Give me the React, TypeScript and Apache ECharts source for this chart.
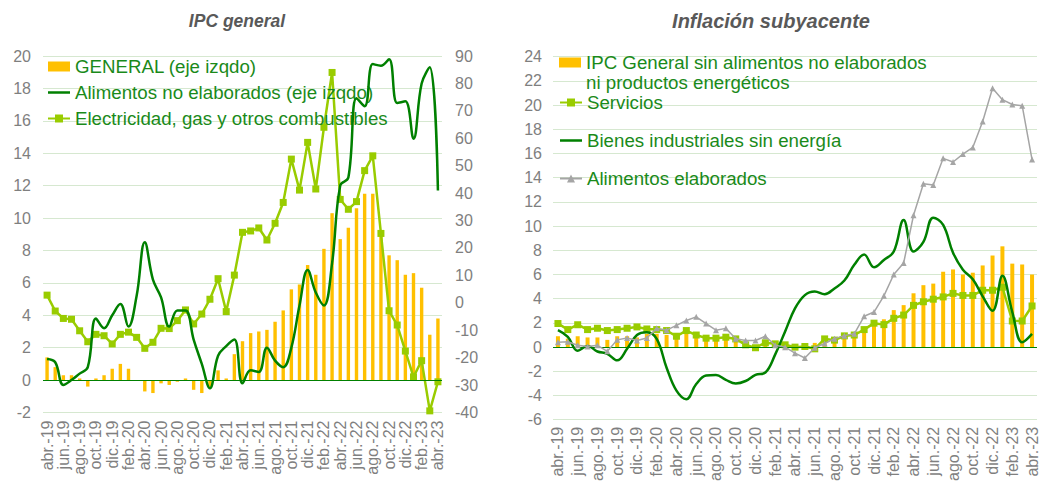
import React, { useEffect, useRef } from 'react';
import * as echarts from 'echarts';

const categories = [
  'abr.-19','may.-19','jun.-19','jul.-19','ago.-19','sep.-19','oct.-19','nov.-19','dic.-19',
  'ene.-20','feb.-20','mar.-20','abr.-20','may.-20','jun.-20','jul.-20','ago.-20','sep.-20','oct.-20','nov.-20','dic.-20',
  'ene.-21','feb.-21','mar.-21','abr.-21','may.-21','jun.-21','jul.-21','ago.-21','sep.-21','oct.-21','nov.-21','dic.-21',
  'ene.-22','feb.-22','mar.-22','abr.-22','may.-22','jun.-22','jul.-22','ago.-22','sep.-22','oct.-22','nov.-22','dic.-22',
  'ene.-23','feb.-23','mar.-23','abr.-23'
];

// Left panel: IPC general
const general = [
  1.4, 0.8, 0.3, 0.3, 0.1, -0.4, 0.1, 0.3, 0.7, 1.0, 0.7, 0.0, -0.7, -0.8, -0.2, -0.3, -0.1, 0.1, -0.6, -0.8, -0.4,
  0.6, 0.1, 1.6, 2.4, 2.9, 3.0, 3.1, 3.6, 4.3, 5.6, 5.9, 7.1, 6.5, 8.1, 10.3, 8.7, 9.4, 10.6, 11.5, 11.5, 9.1,
  7.7, 7.4, 6.5, 6.6, 5.7, 2.8, 3.8
];
const alimNoElab = [
  1.3, 1.1, -0.3, 0.0, 0.4, 0.8, 3.8, 3.2, 4.0, 4.7, 3.3, 5.2, 8.5, 6.2, 5.1, 3.3, 4.3, 4.3, 2.5, 1.0, -0.5,
  1.5, 2.1, 2.5, -0.2, 0.6, 0.5, 2.0, 1.2, 0.8, 2.0, 4.6, 6.8, 5.4, 4.6, 7.2, 12.0, 12.5, 17.4, 16.9, 19.5, 19.4,
  19.8, 17.1, 17.2, 14.9, 18.3, 19.3, 11.7
];
const electricidad = [
  2.8, -3.0, -5.7, -6.0, -10.2, -14.2, -11.5, -12.0, -15.0, -11.5, -10.7, -12.6, -16.6, -14.4, -9.3, -9.4, -6.5, -2.6,
  -7.7, -4.1, 1.3, 8.8, -3.2, 10.1, 25.7, 26.2, 27.3, 22.9, 29.0, 36.6, 52.4, 41.1, 58.5, 41.5, 64.0, 84.0, 37.7,
  34.1, 36.9, 48.2, 53.6, 25.3, -2.9, -8.1, -17.6, -27.0, -21.1, -39.4, -28.8
];

// Right panel: Inflación subyacente
const subyacente = [
  0.9, 0.7, 0.9, 0.8, 0.8, 0.6, 0.9, 0.9, 0.8, 1.1, 1.1, 1.0, 1.0, 1.1, 0.8, 0.7, 0.7, 0.6, 0.6, 0.2, 0.1,
  0.2, 0.1, 0.2, 0.0, 0.1, 0.35, 0.5, 0.75, 1.1, 1.2, 1.6, 2.05, 2.3, 3.06, 3.47, 4.45, 5.12, 5.25, 6.23, 6.42, 6.0,
  6.15, 6.75, 7.57, 8.33, 6.9, 6.83, 6.0
];
const servicios = [
  1.95, 1.45, 1.85, 1.45, 1.56, 1.37, 1.45, 1.56, 1.67, 1.5, 1.45, 1.37, 0.9, 1.37, 1.0, 0.74, 0.74, 0.82, 0.68, 0.19,
  -0.05, 0.36, 0.27, 0.19, 0.0, 0.05, -0.14, 0.68, 0.58, 0.93, 1.0, 1.45, 1.98, 1.86, 2.38, 2.65, 3.45, 3.75, 3.96,
  4.15, 4.44, 4.27, 4.27, 4.7, 4.7, 4.95, 2.16, 2.16, 3.4
];
const bienesInd = [
  1.4, 0.85, -0.3, 0.1, -0.36, -0.55, -1.09, -0.14, 1.0, 1.23, 0.68, -1.7, -3.6, -4.3, -3.05, -2.35, -2.3, -2.7, -3.0,
  -2.8, -2.3, -2.1, -0.6, 1.3, 3.2, 4.3, 4.6, 4.37, 4.85, 5.5, 6.8, 7.65, 6.6, 7.2, 7.9, 10.5, 7.9, 8.7, 10.7, 10.1,
  7.8, 6.4, 5.6, 4.2, 3.0, 5.9, 2.9, 0.4, 1.1
];
const alimElab = [
  0.4, 0.45, 0.15, 0.05, 0.15, -0.35, 0.6, 0.75, 0.55, 0.75, 1.55, 1.4, 1.8, 2.2, 2.5, 1.95, 1.4, 1.55, 0.7, 0.55,
  0.55, 0.9, 0.15, 0.0, -0.5, -0.9, -0.05, 0.3, 0.7, 0.95, 1.1, 2.55, 2.9, 4.24, 6.0, 6.95, 10.9, 13.5, 13.4, 15.6,
  15.3, 15.95, 16.5, 18.65, 21.4, 20.45, 20.05, 19.95, 15.5
];

const names = {
  general: 'GENERAL (eje izqdo)',
  alimNoElab: 'Alimentos no elaborados (eje izqdo)',
  electricidad: 'Electricidad, gas y otros combustibles',
  subyacente: 'IPC General sin alimentos no elaborados ni productos energéticos',
  servicios: 'Servicios',
  bienes: 'Bienes industriales sin energía',
  alimElab: 'Alimentos elaborados',
};

const FONT = '"Liberation Sans", Arial, sans-serif';
const ORANGE = '#FFC000';
const DKGREEN = '#008000';
const LTGREEN = '#99CC00';
const GREY = '#A5A5A5';
const GRID = '#D6E8D0';
const LABEL = '#7F7F7F';
const LEGTEXT = '#1A8A1A';

// plain line icon (22 x 10 bounding box, 2.6 px stroke in the middle)
const LINE_ICON = 'path://M0,3.7L22,3.7L22,6.3L0,6.3Z M0,0L0.02,0L0.02,0.02L0,0.02Z M0,9.98L0.02,9.98L0.02,10L0,10Z';

export default function App() {
  const ref = useRef<HTMLDivElement>(null);
  useEffect(() => {
    if (!ref.current) return;
    const chart = echarts.init(ref.current, undefined, { renderer: 'svg' });
    const xAxisBase = (gridIndex: number, margin: number) => ({
      gridIndex,
      type: 'category',
      data: categories,
      boundaryGap: true,
      axisLine: { show: false },
      axisTick: { show: false },
      splitLine: { show: false },
      axisLabel: { interval: 1, rotate: 90, color: LABEL, fontSize: 16, fontFamily: FONT, margin },
    });
    const yLabel = (margin: number) => ({ color: LABEL, fontSize: 16, fontFamily: FONT, margin });
    const zeroLine = {
      silent: true,
      symbol: 'none',
      label: { show: false },
      lineStyle: { color: DKGREEN, width: 1.2, type: 'solid' },
      data: [{ yAxis: 0 }],
    };
    const legText = { color: LEGTEXT, fontSize: 18.7, fontFamily: FONT, lineHeight: 20 };
    const option: any = {
      animation: false,
      backgroundColor: '#ffffff',
      graphic: [
        {
          type: 'text', x: 237, y: 21,
          style: { text: 'IPC general', font: `italic bold 17.5px ${FONT}`, fill: '#595959', textAlign: 'center', textVerticalAlign: 'middle', align: 'center', verticalAlign: 'middle' },
        },
        {
          type: 'text', x: 771, y: 21,
          style: { text: 'Inflación subyacente', font: `italic bold 20px ${FONT}`, fill: '#595959', textAlign: 'center', textVerticalAlign: 'middle', align: 'center', verticalAlign: 'middle' },
        },
      ],
      grid: [
        { left: 43, top: 56, width: 399, height: 356.5 },
        { left: 553, top: 56.7, width: 489, height: 365 },
      ],
      xAxis: [xAxisBase(0, 8), xAxisBase(1, 7)],
      yAxis: [
        {
          gridIndex: 0, type: 'value', min: -2, max: 20, interval: 2,
          axisLine: { show: false }, axisTick: { show: false },
          axisLabel: yLabel(12),
          splitLine: { show: true, lineStyle: { color: GRID, width: 1 } },
        },
        {
          gridIndex: 0, type: 'value', position: 'right', min: -40, max: 90, interval: 10,
          axisLine: { show: false }, axisTick: { show: false },
          axisLabel: yLabel(13),
          splitLine: { show: false },
        },
        {
          gridIndex: 1, type: 'value', min: -6, max: 24, interval: 2,
          axisLine: { show: false }, axisTick: { show: false },
          axisLabel: yLabel(11),
          splitLine: { show: true, lineStyle: { color: GRID, width: 1 } },
        },
      ],
      legend: [
        {
          orient: 'vertical', left: 47, top: 56.5, padding: 0, itemWidth: 22, itemHeight: 10, itemGap: 6,
          textStyle: legText, selectedMode: false,
          data: [
            { name: names.general, icon: 'rect' },
            { name: names.alimNoElab, icon: LINE_ICON },
            { name: names.electricidad },
          ],
        },
        {
          orient: 'vertical', left: 559, top: 52.5, padding: 0, itemWidth: 22, itemHeight: 30,
          textStyle: { ...legText, lineHeight: 20 }, selectedMode: false,
          formatter: () => 'IPC General sin alimentos no elaborados\nni productos energéticos',
          data: [
            { name: names.subyacente, icon: 'path://M0,0L22,0L22,10L0,10Z M0,29.98L0.02,29.98L0.02,30L0,30Z' },
          ],
        },
        {
          orient: 'vertical', left: 559, top: 93, padding: 0, itemWidth: 22, itemHeight: 10, itemGap: 19,
          textStyle: { ...legText, lineHeight: 16 }, selectedMode: false,
          data: [
            { name: names.servicios },
            { name: names.bienes, icon: LINE_ICON },
            { name: names.alimElab },
          ],
        },
      ],
      series: [
        {
          name: names.general, type: 'bar', xAxisIndex: 0, yAxisIndex: 0, data: general,
          barWidth: 3.4, itemStyle: { color: ORANGE }, markLine: zeroLine, z: 2,
        },
        {
          name: names.electricidad, type: 'line', xAxisIndex: 0, yAxisIndex: 1, data: electricidad,
          symbol: 'rect', symbolSize: 7, showAllSymbol: true,
          itemStyle: { color: LTGREEN }, lineStyle: { color: LTGREEN, width: 2.5 }, z: 3,
        },
        {
          name: names.alimNoElab, type: 'line', xAxisIndex: 0, yAxisIndex: 0, data: alimNoElab,
          smooth: 0.4, symbol: 'none', itemStyle: { color: DKGREEN }, lineStyle: { color: DKGREEN, width: 2.5 }, z: 4,
        },
        {
          name: names.subyacente, type: 'bar', xAxisIndex: 1, yAxisIndex: 2, data: subyacente,
          barWidth: 4, itemStyle: { color: ORANGE }, markLine: zeroLine, z: 2,
        },
        {
          name: names.servicios, type: 'line', xAxisIndex: 1, yAxisIndex: 2, data: servicios,
          symbol: 'rect', symbolSize: 7, showAllSymbol: true,
          itemStyle: { color: LTGREEN }, lineStyle: { color: LTGREEN, width: 2.5 }, z: 3,
        },
        {
          name: names.bienes, type: 'line', xAxisIndex: 1, yAxisIndex: 2, data: bienesInd,
          smooth: 0.4, symbol: 'none', itemStyle: { color: DKGREEN }, lineStyle: { color: DKGREEN, width: 2.5 }, z: 4,
        },
        {
          name: names.alimElab, type: 'line', xAxisIndex: 1, yAxisIndex: 2, data: alimElab,
          symbol: 'triangle', symbolSize: 6, showAllSymbol: true,
          itemStyle: { color: GREY }, lineStyle: { color: GREY, width: 1.5 }, z: 5,
        },
      ],
    };
    chart.setOption(option);
    return () => chart.dispose();
  }, []);
  return <div ref={ref} style={{ position: 'absolute', left: 0, top: 0, width: 1040, height: 484 }} />;
}
